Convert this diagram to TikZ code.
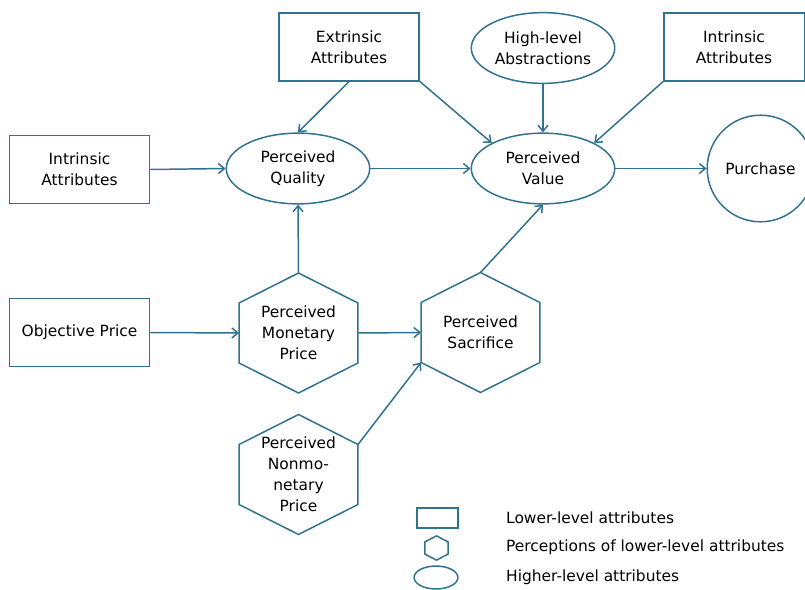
\documentclass[tikz,border=0pt]{standalone}
\usepackage{fontspec}
\setmainfont{DejaVu Sans}
\usetikzlibrary{positioning,calc,shapes.geometric,arrows.meta}
\definecolor{linec}{RGB}{49,114,144}
\tikzset{>={Straight Barb[length=6pt,width=10pt]}}
\tikzset{
  lowbox/.style={draw=linec,line width=1.5pt,minimum width=141,minimum height=68,inner sep=0pt,align=center},
  highell/.style={draw=linec,line width=1.5pt,ellipse,minimum width=144,minimum height=71,inner sep=0pt,align=center},
  percbox/.style={minimum width=119,minimum height=120,inner sep=0pt,align=center},
  link/.style={draw=linec,line width=1.5pt,->},
  keytext/.style={anchor=west,inner sep=0pt}
}

\begin{document}
\begin{tikzpicture}[x=1bp,y=-1bp,font=\fontsize{15.5}{21}\selectfont]
\useasboundingbox (0,0) rectangle (805,590);
% lower-level attributes
\node[lowbox] (EA) at (349,47) {Extrinsic\\Attributes};
\node[lowbox] (IB) at (734,47) {Intrinsic\\Attributes};
\node[lowbox] (IA) at (79.5,169.5) {Intrinsic\\Attributes};
\node[lowbox] (OP) at (79.5,332.5) {Objective Price};
% higher-level attributes
\node[highell] (HA) at (543,48) {High-level\\Abstractions};
\node[highell] (PQ) at (298,168.5) {Perceived\\Quality};
\node[highell] (PV) at (543,168.5) {Perceived\\Value};
\node[draw=linec,line width=1.5pt,circle,minimum size=107,inner sep=0pt] (Pur) at (760.5,168.5) {Purchase};
% perceptions
\node[percbox] (PMP) at (298.5,333) {Perceived\\Monetary\\Price};
\node[percbox] (PS) at (480.5,332.5) {Perceived\\Sacrifice};
\node[percbox] (PNP) at (298.5,474.5) {Perceived\\Nonmo-\\netary\\Price};
% key
\node[lowbox,minimum width=41,minimum height=20] (keyrect) at (437.5,518) {};
\node[percbox,minimum width=23,minimum height=24] (keyhex) at (436.5,548) {};
\node[highell,minimum width=44,minimum height=23] (keyell) at (436,577.5) {};
\node[keytext] (keyrectlbl) at (506,518) {Lower-level attributes};
\node[keytext] (keyhexlbl) at (506,547) {Perceptions of lower-level attributes};
\node[keytext] (keyelllbl) at (506,577) {Higher-level attributes};
\foreach \n in {PMP,PS,PNP,keyhex}
  \draw[draw=linec,line width=1.5pt,line join=miter] (\n.north)
    -- ($(\n.north east)!0.25!(\n.south east)$) -- ($(\n.north east)!0.75!(\n.south east)$)
    -- (\n.south)
    -- ($(\n.south west)!0.25!(\n.north west)$) -- ($(\n.south west)!0.75!(\n.north west)$)
    -- cycle;
\coordinate (PNPc) at ($(PNP.north east)!0.25!(PNP.south east)$);
\coordinate (PSc) at ($(PS.south west)!0.25!(PS.north west)$);
% connectors
\draw[link] (IA.east) -- (PQ.west);
\draw[link] (EA.south) -- (PQ.north);
\draw[link] (EA.south east) -- (PV.north west);
\draw[link] (HA.south) -- (PV.north);
\draw[link] (IB.south west) -- (PV.north east);
\draw[link] (PQ) -- (PV);
\draw[link] (PV) -- (Pur);
\draw[link] (PMP.north) -- (PQ.south);
\draw[link] (OP.east) -- (PMP.west);
\draw[link] (PMP.east) -- (PS.west);
\draw[link] (PS.north) -- (PV.south);
\draw[link] (PNPc) -- (PSc);
\end{tikzpicture}
\end{document}
